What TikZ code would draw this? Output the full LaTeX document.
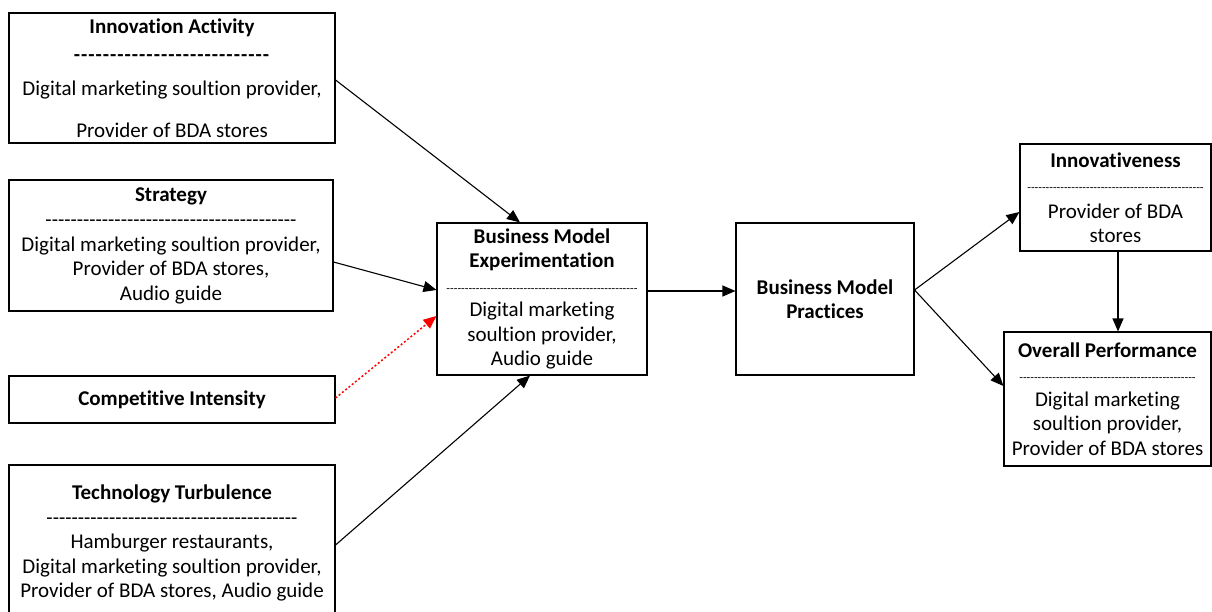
\documentclass[tikz,border=0pt]{standalone}
\usepackage{fontspec}
\setmainfont{Carlito}[Ligatures=CommonOff]
\usetikzlibrary{arrows.meta}
\newcommand\hyrow[3]{{\fontsize{#1}{#1}\selectfont\foreach\k in {1,...,#2}{-\kern#3}}}
\begin{document}
\begin{tikzpicture}[x=1pt,y=-1pt,
    box/.style={draw, line width=1.1pt, align=center, inner sep=0pt,
      font=\fontsize{21}{24.5}\selectfont},
    arr/.style={-{Triangle[length=13pt,width=11pt]}, line width=1.1pt}]
  \useasboundingbox (0,0) rectangle (1212,612);
  \draw
    (172,78) node[box, minimum width=326pt, minimum height=130pt] (ia)
      {\textbf{Innovation Activity}\\[3.5pt]\textbf{\hyrow{20.5}{27}{1pt}}\\[9.5pt]
       Digital marketing soultion provider,\\[17.5pt]Provider of BDA stores}
    (171,245.5) node[box, minimum width=324pt, minimum height=131pt] (strat)
      {\textbf{Strategy}\\[1pt]\hyrow{20.5}{40}{0pt}\\Digital marketing soultion provider,\\
       Provider of BDA stores,\\Audio guide}
    (172,399.5) node[box, minimum width=326pt, minimum height=47pt] (ci)
      {\textbf{Competitive Intensity}}
    (172,543) node[box, minimum width=326pt, minimum height=156pt] (tt)
      {\textbf{Technology Turbulence}\\\hyrow{20.5}{40}{0pt}\\Hamburger restaurants,\\
       Digital marketing soultion provider,\\Provider of BDA stores, Audio guide}
    (542,299) node[box, minimum width=210pt, minimum height=152pt] (bme)
      {\textbf{Business Model}\\\textbf{Experimentation}\\\hyrow{12}{52}{0pt}\\
       Digital marketing\\soultion provider,\\Audio guide}
    (825,299) node[box, minimum width=178pt, minimum height=152pt] (bmp)
      {\textbf{Business Model}\\\textbf{Practices}}
    (1115.5,197.5) node[box, minimum width=191pt, minimum height=107pt] (innov)
      {\textbf{Innovativeness}\\\hyrow{12}{48}{0pt}\\[2pt]Provider of BDA\\stores}
    (1107.5,399) node[box, minimum width=207pt, minimum height=134pt] (op)
      {\textbf{Overall Performance}\\\hyrow{12}{48}{0pt}\\Digital marketing\\
       soultion provider,\\Provider of BDA stores};
  \begin{scope}[arr]
    \draw ([yshift=-2pt]ia.east) to ([xshift=-22pt]bme.north);
    \draw ([yshift=-16.5pt]strat.east) to ([yshift=9pt]bme.west);
    \draw[red, line width=1.5pt, dash pattern=on 2pt off 2.2pt]
      ([yshift=1.5pt]ci.east) to ([yshift=-17pt]bme.west);
    \draw ([yshift=-2pt]tt.east) to ([xshift=-12pt]bme.south);
    \draw ([yshift=8pt]bme.east) to ([yshift=8pt]bmp.west);
    \draw ([yshift=9pt]bmp.east) to ([yshift=-14.5pt]innov.west);
    \draw ([yshift=9pt]bmp.east) to ([yshift=13pt]op.west);
    \draw ([xshift=2.5pt]innov.south) to ([xshift=2.5pt]innov.south |- op.north);
  \end{scope}
\end{tikzpicture}
\end{document}
